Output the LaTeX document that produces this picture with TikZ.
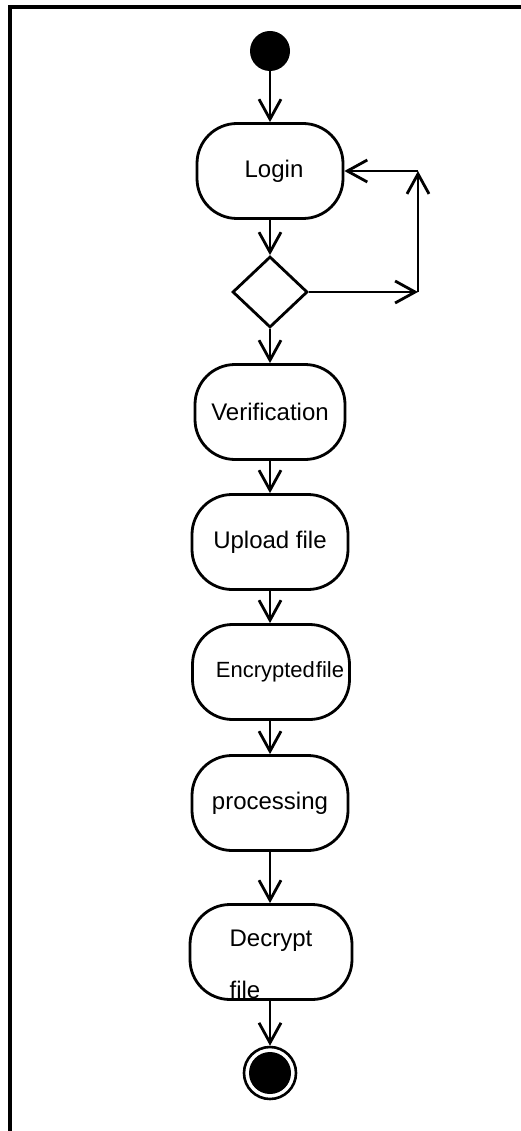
\documentclass[tikz,border=0pt]{standalone}
\usepackage{fontspec}
\setmainfont{Liberation Sans}
\usetikzlibrary{arrows.meta,shapes.geometric}
\begin{document}
\begin{tikzpicture}[x=1pt,y=-1pt,
  act/.style={draw,line width=2.8pt,rounded corners=40pt,minimum height=95pt,inner sep=0pt,font=\fontsize{24}{28}\selectfont},
  decision/.style={draw,shape=diamond,aspect=1,line width=2.8pt,minimum width=75pt,minimum height=71pt,inner sep=0pt},
  flow/.style={line width=2.8pt,-{Straight Barb[length=20pt,width=22pt,line width=2.8pt]}},
  startnode/.style={circle,fill=black,minimum size=40pt,inner sep=0pt},
  endnode/.style={circle,draw,line width=2.6pt,minimum size=52pt,inner sep=0pt,
    path picture={\fill (path picture bounding box.center) circle[radius=21pt];}}]
\useasboundingbox (0,0) rectangle (521,1131);
\draw[line width=3.2pt] (10,1131) -- (10,7) -- (521,7);

\node[startnode] (start) at (270,51) {};
\node[act,minimum width=146pt] (login) at (270,171) {\hspace*{8pt}Login};
\node[decision] (dec) at (270,292) {};
\node[act,minimum width=150pt] (ver) at (270,412) {Verification};
\node[act,minimum width=156pt] (up) at (270,542) {Upload file};
\node[act,minimum width=157pt,font=\fontsize{22}{26}\selectfont] (enc) at (271,672) {\hspace*{18pt}Encrypted\hspace{1pt}file};
\node[act,minimum width=156pt] (proc) at (270,803) {processing};
\node[act,minimum width=162pt,align=left] (decr) at (271,952) {\rule{0pt}{41pt}Decrypt\\[24pt]file};
\node[endnode] (end) at (270,1073) {};

\coordinate (c1) at (418,292);
\coordinate (c2) at (418,171);

\draw[flow] (start) -- (login);
\draw[flow] (login) -- (dec);
\draw[flow] (dec) -- (ver);
\draw[flow] (ver) -- (up);
\draw[flow] (up) -- (enc.north -| up);
\draw[flow] (enc.south -| up) -- (proc);
\draw[flow] (proc) -- (decr.north -| proc);
\draw[flow] (decr.south -| proc) -- (end);
\draw[flow] (dec.east) -- (c1);
\draw[flow] (c1) -- (c2);
\draw[flow] (c2) -- (login.east);
\end{tikzpicture}
\end{document}
